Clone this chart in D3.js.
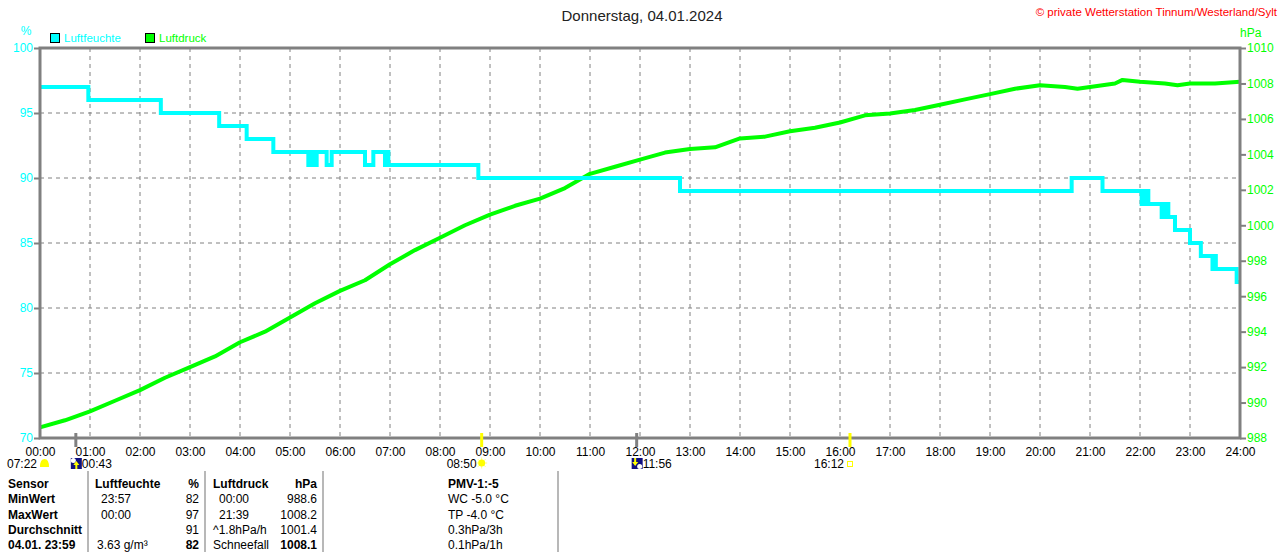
<!DOCTYPE html>
<html>
<head>
<meta charset="utf-8">
<script src="https://cdn.jsdelivr.net/npm/d3@7"></script>
<style>
  body { margin: 0; background: #fff; }
  svg { display: block; font-family: "Liberation Sans", Arial, sans-serif; }
</style>
</head>
<body>
<svg id="chart"></svg>
<script>
// Tagesgrafik Luftfeuchte / Luftdruck, 04.01.2024

const hourLabels = ["00:00","01:00","02:00","03:00","04:00","05:00","06:00","07:00","08:00",
  "09:00","10:00","11:00","12:00","13:00","14:00","15:00","16:00","17:00","18:00","19:00",
  "20:00","21:00","22:00","23:00","24:00"];

// Luftfeuchte (%), step series
const humTimes = ["00:00","00:58","02:25","03:35","04:08","04:40","05:22","05:25","05:28","05:32",
  "05:44","05:50","06:30","06:40","06:54","06:56","06:58","08:46","12:48","20:38","21:15",
  "22:02","22:06","22:10","22:26","22:30","22:34","22:42","23:00","23:13","23:27","23:29",
  "23:31","23:56","24:00"];
const humValues = [97,96,95,94,93,92,91,92,91,92,
  91,92,91,92,91,92,91,90,89,90,89,
  88,89,88,87,88,87,86,85,84,83,84,
  83,82,82];

// Luftdruck (hPa)
const pressTimes = ["00:00","00:30","01:00","01:30","02:00","02:30","03:00","03:30","04:00","04:30",
  "05:00","05:30","06:00","06:30","07:00","07:30","08:00","08:30","09:00","09:30","10:00",
  "10:30","11:00","11:30","12:00","12:30","13:00","13:30","14:00","14:30","15:00","15:30",
  "16:00","16:30","17:00","17:30","18:00","18:30","19:00","19:30","20:00","20:30","20:45",
  "21:00","21:30","21:39","22:00","22:30","22:45","23:00","23:30","24:00"];
const pressValues = [988.6,989.0,989.5,990.1,990.7,991.4,992.0,992.6,993.4,994.0,
  994.8,995.6,996.3,996.9,997.8,998.6,999.3,1000.0,1000.6,1001.1,1001.5,
  1002.1,1002.9,1003.3,1003.7,1004.1,1004.3,1004.4,1004.9,1005.0,1005.3,1005.5,
  1005.8,1006.2,1006.3,1006.5,1006.8,1007.1,1007.4,1007.7,1007.9,1007.8,1007.7,
  1007.8,1008.0,1008.2,1008.1,1008.0,1007.9,1008.0,1008.0,1008.1];

const humTicks = [100, 95, 90, 85, 80, 75, 70];
const pressTicks = [1010, 1008, 1006, 1004, 1002, 1000, 998, 996, 994, 992, 990, 988];

// Astro events below the time axis
const eventLabels = ["07:22", "00:43", "08:50", "11:56", "16:12"];
const eventKinds = ["dawn", "moonrise", "sunrise", "moonset", "sunset"];

// Tabelle
const tableLabels = ["Sensor", "MinWert", "MaxWert", "Durchschnitt", "04.01. 23:59"];
const humColTimes = ["Luftfeuchte", "23:57", "00:00", "", "3.63 g/m³"];
const humColValues = ["%", "82", "97", "91", "82"];
const pressColTimes = ["Luftdruck", "00:00", "21:39", "^1.8hPa/h", "Schneefall"];
const pressColValues = ["hPa", "988.6", "1008.2", "1001.4", "1008.1"];
const extraCol = ["PMV-1:-5", "WC -5.0 °C", "TP -4.0 °C", "0.3hPa/3h", "0.1hPa/1h"];

const W = 1280, H = 552;
const plot = { left: 40, right: 1240, top: 48, bottom: 438 };
const frameGrey = "#808080";
const cyan = "#00ffff", green = "#00ff00";

const toHours = s => { const [h, m] = s.split(":").map(Number); return h + m / 60; };

const svg = d3.select("#chart").attr("width", W).attr("height", H);

const x = d3.scaleLinear().domain([0, 24]).range([plot.left, plot.right]);
const yHum = d3.scaleLinear().domain([70, 100]).range([plot.bottom, plot.top]);
const yPress = d3.scaleLinear().domain([988, 1010]).range([plot.bottom, plot.top]);

// grid
const grid = svg.append("g");
grid.selectAll(".vg").data(d3.range(1, 24)).join("line")
  .attr("x1", d => x(d)).attr("x2", d => x(d))
  .attr("y1", plot.top).attr("y2", plot.bottom)
  .attr("stroke", frameGrey).attr("stroke-dasharray", "4,4");
grid.selectAll(".hg").data(humTicks.slice(1, -1)).join("line")
  .attr("x1", plot.left).attr("x2", plot.right)
  .attr("y1", d => yHum(d)).attr("y2", d => yHum(d))
  .attr("stroke", frameGrey).attr("stroke-dasharray", "4,4");

// lines
const pressData = pressTimes.map((t, i) => ({ t: toHours(t), v: pressValues[i] }));
const humData = humTimes.map((t, i) => ({ t: toHours(t), v: humValues[i] }));

svg.append("path")
  .datum(pressData)
  .attr("fill", "none")
  .attr("stroke", green)
  .attr("stroke-width", 4)
  .attr("stroke-linejoin", "round")
  .attr("d", d3.line().x(d => x(d.t)).y(d => yPress(d.v)));

svg.append("path")
  .datum(humData)
  .attr("fill", "none")
  .attr("stroke", cyan)
  .attr("stroke-width", 4)
  .attr("d", d3.line().curve(d3.curveStepAfter).x(d => x(d.t)).y(d => yHum(d.v)));

// axes
const leftAxis = svg.append("g")
  .attr("transform", `translate(${plot.left},0)`)
  .call(d3.axisLeft(yHum).tickValues(humTicks).tickFormat(d3.format("d")).tickSize(6).tickPadding(1));
leftAxis.select(".domain").remove();
leftAxis.selectAll("line").attr("stroke", frameGrey).attr("stroke-width", 2);
leftAxis.selectAll("text").attr("fill", cyan).attr("font-size", 12).attr("font-family", "Liberation Sans, Arial");

const rightAxis = svg.append("g")
  .attr("transform", `translate(${plot.right},0)`)
  .call(d3.axisRight(yPress).tickValues(pressTicks).tickFormat(d3.format("d")).tickSize(6).tickPadding(1));
rightAxis.select(".domain").remove();
rightAxis.selectAll("line").attr("stroke", frameGrey).attr("stroke-width", 2);
rightAxis.selectAll("text").attr("fill", green).attr("font-size", 12).attr("font-family", "Liberation Sans, Arial");

const bottomAxis = svg.append("g")
  .attr("transform", `translate(0,${plot.bottom})`)
  .call(d3.axisBottom(x).tickValues(d3.range(0, 25)).tickFormat(i => hourLabels[i]).tickSize(0).tickPadding(9));
bottomAxis.select(".domain").remove();
bottomAxis.selectAll("text").attr("fill", "#000").attr("font-size", 12).attr("font-family", "Liberation Sans, Arial");

// frame
svg.append("rect")
  .attr("x", plot.left).attr("y", plot.top)
  .attr("width", plot.right - plot.left).attr("height", plot.bottom - plot.top)
  .attr("fill", "none").attr("stroke", frameGrey).attr("stroke-width", 3);

// unit labels and legend
svg.append("text").attr("x", 26).attr("y", 35).attr("text-anchor", "middle")
  .attr("fill", cyan).attr("font-size", 12).text("%");
svg.append("text").attr("x", 1240).attr("y", 37)
  .attr("fill", green).attr("font-size", 12).text("hPa");

const legend = svg.append("g");
[["Luftfeuchte", cyan, 50], ["Luftdruck", green, 145]].forEach(([name, col, lx]) => {
  legend.append("rect").attr("x", lx + 0.5).attr("y", 33.5).attr("width", 9).attr("height", 9)
    .attr("fill", col).attr("stroke", "#000");
  legend.append("text").attr("x", lx + 14).attr("y", 42)
    .attr("fill", col).attr("font-size", 11.5).text(name);
});

// title & copyright
svg.append("text").attr("x", 642).attr("y", 21).attr("text-anchor", "middle")
  .attr("fill", "#222").attr("font-size", 15).text("Donnerstag, 04.01.2024");
svg.append("text").attr("x", 1277).attr("y", 16).attr("text-anchor", "end")
  .attr("fill", "#ff0000").attr("font-size", 11.5).text("© private Wetterstation Tinnum/Westerland/Sylt");

// astro events
const ev = svg.append("g").attr("font-size", 12).attr("fill", "#000");
eventKinds.forEach((kind, i) => {
  const t = toHours(eventLabels[i]);
  const ex = x(t);
  const iy = 463;
  if (kind === "dawn") {
    ev.append("text").attr("x", 37).attr("y", 468).attr("text-anchor", "end").text(eventLabels[i]);
    ev.append("path").attr("d", "M40,467 Q40,459 44.5,459 Q49,459 49,467 Z").attr("fill", "#ffff00");
    return;
  }
  const tickCol = (kind === "sunrise" || kind === "sunset") ? "#ffff00" : frameGrey;
  ev.append("line").attr("x1", ex).attr("x2", ex).attr("y1", 433).attr("y2", 447)
    .attr("stroke", tickCol).attr("stroke-width", 3);
  if (kind === "sunrise") {
    ev.append("text").attr("x", ex - 5).attr("y", 468).attr("text-anchor", "end").text(eventLabels[i]);
    const sun = ev.append("g").attr("transform", `translate(${ex},${iy})`);
    d3.range(8).forEach(k => {
      const a = k * Math.PI / 4;
      sun.append("line").attr("x1", Math.cos(a) * 3).attr("y1", Math.sin(a) * 3)
        .attr("x2", Math.cos(a) * 5.5).attr("y2", Math.sin(a) * 5.5)
        .attr("stroke", "#ffff80").attr("stroke-width", 1);
    });
    sun.append("circle").attr("r", 3.5).attr("fill", "#ffff00");
  } else if (kind === "sunset") {
    ev.append("text").attr("x", ex - 6).attr("y", 468).attr("text-anchor", "end").text(eventLabels[i]);
    ev.append("rect").attr("x", ex - 2.5).attr("y", 461.5).attr("width", 5).attr("height", 5)
      .attr("fill", "none").attr("stroke", "#ffff00").attr("stroke-width", 1);
  } else {
    const bx = ex - 5;
    ev.append("rect").attr("x", bx).attr("y", 458).attr("width", 11).attr("height", 11).attr("fill", "#101080");
    ev.append("circle").attr("cx", kind === "moonrise" ? bx + 2.5 : bx + 8).attr("cy", kind === "moonrise" ? 460.5 : 466.5)
      .attr("r", 2.5).attr("fill", "#fff");
    const up = kind === "moonrise";
    ev.append("path")
      .attr("d", up ? `M${bx + 5.5},461 L${bx + 2.5},465 L${bx + 4.5},465 L${bx + 4.5},469 L${bx + 6.5},469 L${bx + 6.5},465 L${bx + 8.5},465 Z`
                    : `M${bx + 3.5},466 L${bx + 0.5},462 L${bx + 2.5},462 L${bx + 2.5},458 L${bx + 4.5},458 L${bx + 4.5},462 L${bx + 6.5},462 Z`)
      .attr("fill", "#ffff00");
    ev.append("text").attr("x", ex + 6).attr("y", 468).text(eventLabels[i]);
  }
});

// table
const table = svg.append("g").attr("font-size", 12).attr("fill", "#000");
[88, 205, 323, 558].forEach(sx => {
  table.append("line").attr("x1", sx).attr("x2", sx).attr("y1", 471).attr("y2", H)
    .attr("stroke", "#a0a0a0").attr("stroke-width", 1.5);
});
const rowY = d3.range(5).map(i => 488 + i * 15.25);
tableLabels.forEach((lab, i) => {
  table.append("text").attr("x", 8).attr("y", rowY[i]).attr("font-weight", "bold").text(lab);
  table.append("text").attr("x", i === 0 ? 95 : (i === 4 ? 97 : 101)).attr("y", rowY[i])
    .attr("font-weight", i === 0 ? "bold" : "normal").text(humColTimes[i]);
  table.append("text").attr("x", 199).attr("y", rowY[i]).attr("text-anchor", "end")
    .attr("font-weight", (i === 0 || i === 4) ? "bold" : "normal").text(humColValues[i]);
  table.append("text").attr("x", (i === 1 || i === 2) ? 219 : 213).attr("y", rowY[i])
    .attr("font-weight", i === 0 ? "bold" : "normal").text(pressColTimes[i]);
  table.append("text").attr("x", 317).attr("y", rowY[i]).attr("text-anchor", "end")
    .attr("font-weight", (i === 0 || i === 4) ? "bold" : "normal").text(pressColValues[i]);
  table.append("text").attr("x", 448).attr("y", rowY[i])
    .attr("font-weight", i === 0 ? "bold" : "normal").text(extraCol[i]);
});
</script>
</body>
</html>
